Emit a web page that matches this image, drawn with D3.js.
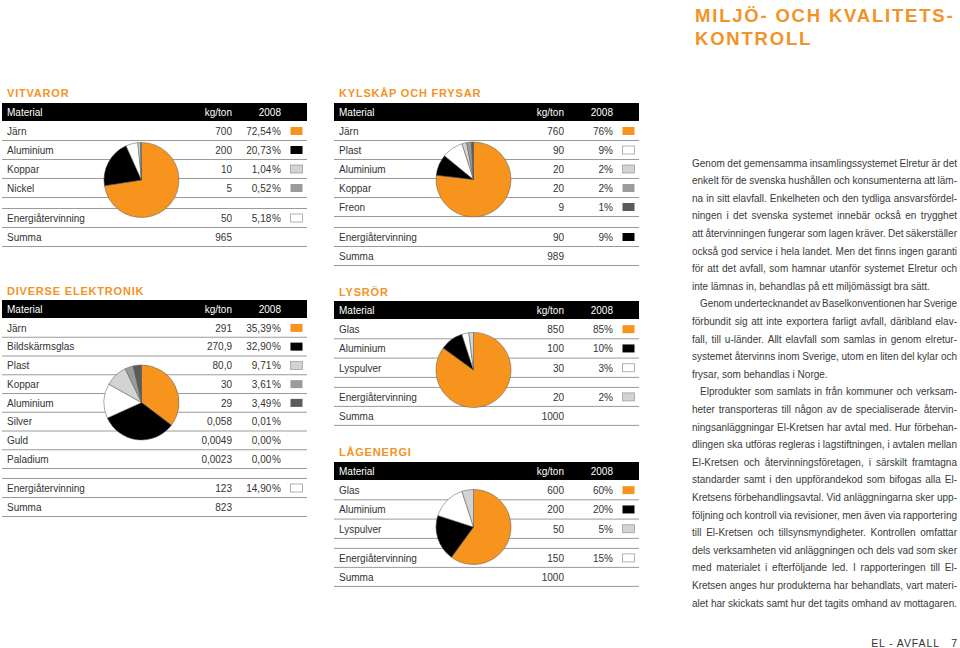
<!DOCTYPE html>
<html><head><meta charset="utf-8">
<script src="https://cdn.jsdelivr.net/npm/d3@7"></script>
<style>body{margin:0;background:#fff}svg{display:block}</style>
</head><body><svg id="c" width="960" height="648"></svg>
<script>
// ---------- DATA ----------
const vitvarorMaterial = ["Järn","Aluminium","Koppar","Nickel","Energiåtervinning"];
const vitvarorKg = [700,200,10,5,50];
const vitvarorPct = [72.54,20.73,1.04,0.52,5.18];
const vitvarorColor = ["orange","black","light","mid","white"];
const vitvarorSumma = 965;

const diverseMaterial = ["Järn","Bildskärmsglas","Plast","Koppar","Aluminium","Silver","Guld","Paladium","Energiåtervinning"];
const diverseKg = [291,270.9,80.0,30,29,0.058,0.0049,0.0023,123];
const diverseKgDecimals = [0,1,1,0,0,3,4,4,0];
const diversePct = [35.39,32.90,9.71,3.61,3.49,0.01,0.00,0.00,14.90];
const diverseColor = ["orange","black","light","mid","dark",null,null,null,"white"];
const diverseSumma = 823;

const kylMaterial = ["Järn","Plast","Aluminium","Koppar","Freon","Energiåtervinning"];
const kylKg = [760,90,20,20,9,90];
const kylPct = [76,9,2,2,1,9];
const kylColor = ["orange","white","light","mid","dark","black"];
const kylSumma = 989;

const lysrorMaterial = ["Glas","Aluminium","Lyspulver","Energiåtervinning"];
const lysrorKg = [850,100,30,20];
const lysrorPct = [85,10,3,2];
const lysrorColor = ["orange","black","white","light"];
const lysrorSumma = 1000;

const lagMaterial = ["Glas","Aluminium","Lyspulver","Energiåtervinning"];
const lagKg = [600,200,50,150];
const lagPct = [60,20,5,15];
const lagColor = ["orange","black","light","white"];
const lagSumma = 1000;

const headerLabels = ["Material","kg/ton","2008"];

// ---------- STYLE ----------
const FILL = {orange:"#f7941d", black:"#000000", light:"#d3d3d3", mid:"#9b9b9b", dark:"#5b5b5b", white:"#ffffff"};
const ORANGE_TXT = "#f39325";
const FONT = "'Liberation Sans', Arial, Helvetica, sans-serif";
const TXT = "#333";

const loc = d3.formatLocale({decimal:",", thousands:" ", grouping:[3], currency:["",""]});

const svg = d3.select("#c").style("font-family", FONT);

function drawTable(cfg){
  const g = svg.append("g");
  const x0 = cfg.x0, x1 = cfg.x0 + 305;
  const colKg = x0 + 230, colPct = x0 + 279, colSw = x0 + 288;
  const n = cfg.material.length - 1; // last is Energiåtervinning
  g.append("text").attr("x", x0 + 5).attr("y", cfg.headY)
    .attr("fill", ORANGE_TXT).attr("font-size", 11).attr("font-weight", "bold")
    .attr("letter-spacing", 0.8).text(cfg.title);
  g.append("rect").attr("x", x0).attr("y", cfg.barTop).attr("width", x1 - x0).attr("height", 18).attr("fill", "#000");
  const hy = cfg.barTop + 13;
  g.append("text").attr("x", x0 + 5).attr("y", hy).attr("fill", "#fff").attr("font-size", 10).text(headerLabels[0]);
  g.append("text").attr("x", colKg).attr("y", hy).attr("fill", "#fff").attr("font-size", 10).attr("text-anchor","end").text(headerLabels[1]);
  g.append("text").attr("x", colPct).attr("y", hy).attr("fill", "#fff").attr("font-size", 10).attr("text-anchor","end").text(headerLabels[2]);

  const rows = [];
  let y = cfg.barTop + 18;
  for (let i = 0; i < n; i++) { rows.push({i, top: y, h: cfg.pitch}); y += cfg.pitch; }
  const mainEnd = y;
  y += cfg.gap;
  rows.push({i: n, top: y, h: 19}); y += 19;
  rows.push({i: -1, top: y, h: 19}); y += 19;

  const lineYs = rows.map(r => r.top + r.h);
  lineYs.push(mainEnd + cfg.gap);
  g.selectAll("line.sep").data(lineYs).join("line")
    .attr("x1", x0).attr("x2", x1).attr("y1", d => d + 0.5).attr("y2", d => d + 0.5)
    .attr("stroke", "#9a9a9a").attr("stroke-width", 1);

  const kgFmt = i => loc.format("." + (cfg.kgDec ? cfg.kgDec[i] : 0) + "f")(cfg.kg[i]);
  const pctFmt = i => loc.format("." + cfg.pctDec + "f")(cfg.pct[i]) + (cfg.pctDec ? "\u200A%" : "%");

  rows.forEach(r => {
    const by = r.top + r.h / 2 + 4.3;
    if (r.i === -1) {
      g.append("text").attr("x", x0 + 5).attr("y", by).attr("fill", TXT).attr("font-size", 10).text("Summa");
      g.append("text").attr("x", colKg).attr("y", by).attr("fill", TXT).attr("font-size", 10).attr("text-anchor","end").text(cfg.summa);
      return;
    }
    g.append("text").attr("x", x0 + 5).attr("y", by).attr("fill", TXT).attr("font-size", 10).text(cfg.material[r.i]);
    g.append("text").attr("x", colKg).attr("y", by).attr("fill", TXT).attr("font-size", 10).attr("text-anchor","end").text(kgFmt(r.i));
    g.append("text").attr("x", colPct).attr("y", by).attr("fill", TXT).attr("font-size", 10).attr("text-anchor","end").text(pctFmt(r.i));
    const c = cfg.color[r.i];
    if (c) {
      g.append("rect").attr("x", colSw + 0.5).attr("y", r.top + r.h/2 - 4 + 0.5).attr("width", 12).attr("height", 8)
        .attr("fill", FILL[c]).attr("stroke", c === "white" || c === "light" ? "#a0a0a0" : "none").attr("stroke-width", 0.8);
    }
  });

  const pieData = cfg.material.map((m, i) => ({m, kg: cfg.kg[i], color: cfg.color[i], energy: i === n ? 1 : 0}))
    .filter(d => d.color)
    .sort((a, b) => (b.kg - a.kg) || (b.energy - a.energy));
  const pie = d3.pie().sort(null).value(d => d.kg);
  const arc = d3.arc().innerRadius(0).outerRadius(37.5);
  g.append("g").attr("transform", `translate(${cfg.cx},${cfg.cy})`)
    .selectAll("path").data(pie(pieData)).join("path")
    .attr("d", arc).attr("fill", d => FILL[d.data.color])
    .attr("stroke", "#555").attr("stroke-width", 0.5).attr("stroke-linejoin", "round");
}

drawTable({title:"VITVAROR", x0:2, headY:97, barTop:103, pitch:19, gap:11,
  material:vitvarorMaterial, kg:vitvarorKg, pct:vitvarorPct, pctDec:2, color:vitvarorColor, summa:vitvarorSumma, cx:141.5, cy:180});
drawTable({title:"DIVERSE ELEKTRONIK", x0:2, headY:295, barTop:300, pitch:18.75, gap:10,
  material:diverseMaterial, kg:diverseKg, kgDec:diverseKgDecimals, pct:diversePct, pctDec:2, color:diverseColor, summa:diverseSumma, cx:141.5, cy:402.5});
drawTable({title:"KYLSKÅP OCH FRYSAR", x0:334, headY:97, barTop:103, pitch:19, gap:11,
  material:kylMaterial, kg:kylKg, pct:kylPct, pctDec:0, color:kylColor, summa:kylSumma, cx:473.5, cy:179.5});
drawTable({title:"LYSRÖR", x0:334, headY:296, barTop:301, pitch:19.3, gap:10,
  material:lysrorMaterial, kg:lysrorKg, pct:lysrorPct, pctDec:0, color:lysrorColor, summa:lysrorSumma, cx:473.5, cy:370});
drawTable({title:"LÅGENERGI", x0:334, headY:456, barTop:462, pitch:19.3, gap:10,
  material:lagMaterial, kg:lagKg, pct:lagPct, pctDec:0, color:lagColor, summa:lagSumma, cx:473.5, cy:527});

// ---------- TITLE ----------
const titleLines = ["MILJÖ- OCH KVALITETS-","KONTROLL"];
svg.append("g").selectAll("text").data(titleLines).join("text")
  .attr("x", 695).attr("y", (d, i) => 22 + i * 23)
  .attr("fill", ORANGE_TXT).attr("font-size", 18.5).attr("font-weight", "bold").attr("letter-spacing", 1.8)
  .text(d => d);

// ---------- BODY TEXT ----------
const bodyLines = [
 {t:"Genom det gemensamma insamlingssystemet Elretur är det", ind:0},
 {t:"enkelt för de svenska hushållen och konsumenterna att läm-", ind:0},
 {t:"na in sitt elavfall. Enkelheten och den tydliga ansvarsfördel-", ind:0},
 {t:"ningen i det svenska systemet innebär också en trygghet", ind:0},
 {t:"att återvinningen fungerar som lagen kräver. Det säkerställer", ind:0},
 {t:"också god service i hela landet. Men det finns ingen garanti", ind:0},
 {t:"för att det avfall, som hamnar utanför systemet Elretur och", ind:0},
 {t:"inte lämnas in, behandlas på ett miljömässigt bra sätt.", ind:0, last:true},
 {t:"Genom undertecknandet av Baselkonventionen har Sverige", ind:8},
 {t:"förbundit sig att inte exportera farligt avfall, däribland elav-", ind:0},
 {t:"fall, till u-länder. Allt elavfall som samlas in genom elretur-", ind:0},
 {t:"systemet återvinns inom Sverige, utom en liten del kylar och", ind:0},
 {t:"frysar, som behandlas i Norge.", ind:0, last:true},
 {t:"Elprodukter som samlats in från kommuner och verksam-", ind:8},
 {t:"heter transporteras till någon av de specialiserade återvin-", ind:0},
 {t:"ningsanläggningar El-Kretsen har avtal med. Hur förbehan-", ind:0},
 {t:"dlingen ska utföras regleras i lagstiftningen, i avtalen mellan", ind:0},
 {t:"El-Kretsen och återvinningsföretagen, i särskilt framtagna", ind:0},
 {t:"standarder samt i den uppförandekod som bifogas alla El-", ind:0},
 {t:"Kretsens förbehandlingsavtal. Vid anläggningarna sker upp-", ind:0},
 {t:"följning och kontroll via revisioner, men även via rapportering", ind:0},
 {t:"till El-Kretsen och tillsynsmyndigheter. Kontrollen omfattar", ind:0},
 {t:"dels verksamheten vid anläggningen och dels vad som sker", ind:0},
 {t:"med materialet i efterföljande led. I rapporteringen till El-", ind:0},
 {t:"Kretsen anges hur produkterna har behandlats, vart materi-", ind:0},
 {t:"alet har skickats samt hur det tagits omhand av mottagaren.", ind:0}
];
const bx0 = 692, bx1 = 957;
const body = svg.append("g").attr("fill", "#3a3a3a").attr("font-size", 10);
const measure = body.append("text").attr("x", -1000).attr("y", -1000);
const widthOf = s => { measure.text(s); return measure.node().getComputedTextLength(); };
bodyLines.forEach((ln, i) => {
  const y = 166.5 + i * 17.6;
  const xs = bx0 + ln.ind;
  const target = bx1 - xs;
  const full = widthOf(ln.t);
  if (ln.last) {
    body.append("text").attr("x", xs).attr("y", y).text(ln.t);
    return;
  }
  const words = ln.t.split(" ");
  const ws = words.map(widthOf);
  const sumW = d3.sum(ws);
  let gap = (target - sumW) / (words.length - 1);
  let scale = 1;
  if (gap < 2) { gap = 2; scale = (target - gap * (words.length - 1)) / sumW; }
  const t = body.append("text").attr("y", y);
  let x = xs;
  words.forEach((w, k) => {
    const sp = t.append("tspan").attr("x", x).text(w);
    if (scale < 1) sp.attr("textLength", ws[k] * scale).attr("lengthAdjust", "spacingAndGlyphs");
    x += ws[k] * scale + gap;
  });
});
measure.remove();

// ---------- FOOTER ----------
svg.append("text").attr("x", 940).attr("y", 647).attr("text-anchor","end").attr("fill", "#333")
  .attr("font-size", 10.5).attr("letter-spacing", 0.9).text("EL - AVFALL");
svg.append("text").attr("x", 957).attr("y", 647).attr("text-anchor","end").attr("fill", "#333").attr("font-size", 10.5).text("7");
</script></body></html>
